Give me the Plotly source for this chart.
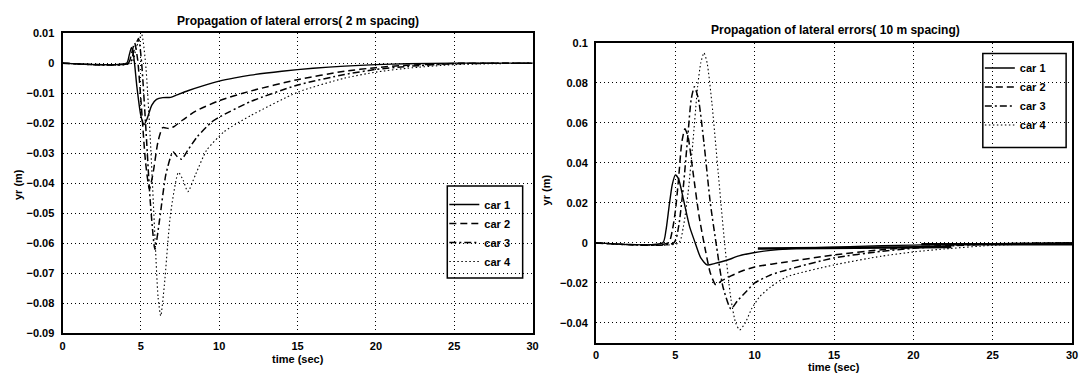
import plotly.graph_objects as go

# ---------------- lateral error, 2 m spacing ----------------
t_car1_2m = [0, 4.1, 4.25, 4.4, 4.55, 4.75, 5.0, 5.2, 5.4, 5.7, 6.0, 6.4, 6.9, 7.3, 8, 9, 10, 11, 12, 14, 16, 18, 20, 22, 25, 30]
y_car1_2m = [0, 0, 0.0025, 0.0052, 0.002, -0.008, -0.0175, -0.0205, -0.0185, -0.014, -0.0121, -0.0115, -0.0114, -0.0106,
             -0.0092, -0.0075, -0.006, -0.0049, -0.004, -0.0027, -0.0017, -0.001, -0.0005, -0.0002, 0, 0]

t_car2_2m = [0, 4.2, 4.4, 4.6, 4.8, 5.0, 5.3, 5.55, 5.8, 6.1, 6.4, 6.8, 7.1, 7.6, 8.5, 10, 12, 15, 18, 20, 22, 25, 30]
y_car2_2m = [0, 0, 0.003, 0.0068, 0.001, -0.012, -0.033, -0.042, -0.036, -0.026, -0.0215, -0.0218, -0.0212, -0.0192,
             -0.016, -0.0125, -0.0093, -0.0055, -0.0027, -0.0015, -0.0007, -0.0001, 0]

t_car3_2m = [0, 4.3, 4.55, 4.85, 5.05, 5.3, 5.6, 5.9, 6.2, 6.6, 7.05, 7.3, 7.6, 8.0, 8.6, 9.5, 10, 12, 15, 18, 20, 22, 25, 30]
y_car3_2m = [0, 0, 0.004, 0.0082, 0.0, -0.02, -0.046, -0.062, -0.052, -0.037, -0.0295, -0.031, -0.032, -0.029, -0.0245,
             -0.0197, -0.018, -0.0128, -0.0073, -0.0038, -0.0021, -0.0011, -0.0002, 0]

t_car4_2m = [0, 4.4, 4.7, 5.05, 5.3, 5.6, 5.9, 6.1, 6.27, 6.5, 6.9, 7.4, 7.7, 8.0, 8.5, 9.2, 10.3, 11, 12, 15, 18, 20, 22, 25, 30]
y_car4_2m = [0, 0, 0.005, 0.0095, 0.0, -0.025, -0.058, -0.078, -0.0842, -0.074, -0.05, -0.0364, -0.039, -0.0428, -0.037,
             -0.029, -0.0229, -0.0205, -0.0175, -0.0097, -0.005, -0.003, -0.0017, -0.0005, 0]

# ---------------- lateral error, 10 m spacing ----------------
t_car1_10m = [0, 4.2, 4.4, 4.6, 4.8, 5.0, 5.2, 5.5, 5.9, 6.25, 6.6, 7.0, 7.5, 8.2, 9, 10, 11, 12, 15, 18, 20, 22, 25, 30]
y_car1_10m = [0, 0, 0.006, 0.018, 0.029, 0.034, 0.032, 0.022, 0.008, 0.0, -0.0075, -0.011, -0.0102, -0.0088, -0.0065,
              -0.0048, -0.0037, -0.003, -0.0021, -0.0014, -0.0011, -0.0008, -0.0004, 0]

t_car2_10m = [0, 4.55, 4.8, 5.0, 5.2, 5.4, 5.6, 5.8, 6.1, 6.5, 6.9, 7.2, 7.55, 7.9, 8.5, 9.2, 10, 12, 15, 18, 20, 22, 25, 30]
y_car2_10m = [0, 0, 0.006, 0.016, 0.032, 0.05, 0.057, 0.053, 0.036, 0.013, -0.004, -0.015, -0.021, -0.019, -0.0165,
              -0.014, -0.012, -0.0095, -0.006, -0.0034, -0.0022, -0.0013, -0.0005, 0]

t_car3_10m = [0, 4.9, 5.2, 5.5, 5.8, 6.0, 6.2, 6.45, 6.8, 7.2, 7.6, 8.0, 8.5, 8.9, 9.5, 10, 11, 12, 15, 18, 20, 22, 25, 30]
y_car3_10m = [0, 0, 0.008, 0.028, 0.055, 0.072, 0.078, 0.072, 0.05, 0.02, -0.002, -0.022, -0.033, -0.029, -0.024, -0.020,
              -0.016, -0.0135, -0.0075, -0.0042, -0.0027, -0.0016, -0.0006, 0]

t_car4_10m = [0, 5.2, 5.5, 5.8, 6.1, 6.4, 6.6, 6.8, 7.0, 7.3, 7.7, 8.1, 8.5, 8.8, 9.05, 9.4, 9.8, 10.3, 11, 12, 15, 18,
              20, 22, 25, 30]
y_car4_10m = [0, 0, 0.008, 0.025, 0.05, 0.078, 0.09, 0.095, 0.09, 0.07, 0.035, 0.0, -0.028, -0.040, -0.0435, -0.04,
              -0.033, -0.027, -0.022, -0.017, -0.011, -0.0066, -0.0045, -0.003, -0.0012, 0]

# heavy settled segments near zero on the 10 m plot
t_settle_a = [10.2, 22.4]
y_settle_a = [-0.0028, -0.0020]
t_settle_b = [20.5, 30]
y_settle_b = [-0.0007, -0.0007]

car_names = ["car 1", "car 2", "car 3", "car 4"]
x_ticks = [0, 5, 10, 15, 20, 25, 30]
y_ticks_2m = [0.01, 0, -0.01, -0.02, -0.03, -0.04, -0.05, -0.06, -0.07, -0.08, -0.09]
y_ticks_10m = [0.1, 0.08, 0.06, 0.04, 0.02, 0, -0.02, -0.04]
y_ticklabels_10m = ["0.1", "0.08", "0.06", "0.04", "0.02", "0", "\u22120.02", "\u22120.04"]
y_ticklabels_2m = ["0.01", "0", "\u22120.01", "\u22120.02", "\u22120.03", "\u22120.04", "\u22120.05", "\u22120.06",
                   "\u22120.07", "\u22120.08", "\u22120.09"]

W, H = 1087, 379
FONT = "Liberation Sans, Arial, Helvetica, sans-serif"


def fx(px):
    return px / W


def fy(px):
    return 1 - px / H


line_styles = [
    dict(dash="solid", width=1.4),
    dict(dash="7px,4px", width=1.5),
    dict(dash="7px,3px,2px,3px", width=1.5),
    dict(dash="1.5px,2.5px", width=1.1),
]

series_2m = [(t_car1_2m, y_car1_2m), (t_car2_2m, y_car2_2m), (t_car3_2m, y_car3_2m), (t_car4_2m, y_car4_2m)]
series_10m = [(t_car1_10m, y_car1_10m), (t_car2_10m, y_car2_10m), (t_car3_10m, y_car3_10m), (t_car4_10m, y_car4_10m)]

fig = go.Figure()
for name, (t, y), st in zip(car_names, series_2m, line_styles):
    fig.add_trace(go.Scatter(x=t, y=y, mode="lines", name=name, xaxis="x", yaxis="y", legend="legend",
                             line=dict(color="black", shape="spline", smoothing=0.6, **st)))
for name, (t, y), st in zip(car_names, series_10m, line_styles):
    fig.add_trace(go.Scatter(x=t, y=y, mode="lines", name=name, xaxis="x2", yaxis="y2", legend="legend2",
                             line=dict(color="black", shape="spline", smoothing=0.6, **st)))
for t, y in [(t_settle_a, y_settle_a), (t_settle_b, y_settle_b)]:
    fig.add_trace(go.Scatter(x=t, y=y, mode="lines", showlegend=False, xaxis="x2", yaxis="y2",
                             line=dict(color="black", width=2.6), hoverinfo="skip"))

axis_common = dict(
    showline=True, mirror=True, linecolor="black", linewidth=2,
    showgrid=True, gridcolor="black", gridwidth=1, griddash="1px,3px",
    zeroline=False, ticks="", tickfont=dict(family=FONT, size=11, color="black", weight="bold"),
)

fig.update_layout(
    width=W, height=H, margin=dict(l=0, r=0, t=0, b=0),
    paper_bgcolor="white", plot_bgcolor="white",
    xaxis=dict(domain=[fx(60), fx(534)], range=[0, 30], tickvals=x_ticks, anchor="y", ticklabelstandoff=2,
               **axis_common),
    yaxis=dict(domain=[fy(338), fy(28)], range=[-0.09, 0.01], tickvals=y_ticks_2m, ticktext=y_ticklabels_2m,
               anchor="x", ticklabelstandoff=4, **axis_common),
    xaxis2=dict(domain=[fx(598), fx(1078)], range=[0, 30], tickvals=x_ticks, anchor="y2", ticklabelstandoff=1,
                **axis_common),
    yaxis2=dict(domain=[fy(348), fy(38)], range=[-0.05, 0.1], tickvals=y_ticks_10m, ticktext=y_ticklabels_10m,
                anchor="x2", ticklabelstandoff=4, **axis_common),
    legend=dict(x=fx(445), y=fy(190), xanchor="left", yanchor="top", bgcolor="rgba(0,0,0,0)", borderwidth=0,
                itemwidth=30, font=dict(family=FONT, size=11, color="black", weight="bold"), tracegroupgap=0),
    legend2=dict(x=fx(985), y=fy(49), xanchor="left", yanchor="top", bgcolor="rgba(0,0,0,0)", borderwidth=0,
                 itemwidth=30, font=dict(family=FONT, size=11, color="black", weight="bold"), tracegroupgap=0),
    showlegend=True,
    shapes=[
        dict(type="rect", xref="paper", yref="paper", x0=fx(448), x1=fx(524), y0=fy(281), y1=fy(186),
             line=dict(color="black", width=1.5), layer="above"),
        dict(type="rect", xref="paper", yref="paper", x0=fx(988), x1=fx(1072), y0=fy(146), y1=fy(49),
             line=dict(color="black", width=1.5), layer="above"),
    ],
)

title_font = dict(family=FONT, size=12, color="black", weight="bold")
label_font = dict(family=FONT, size=11, color="black", weight="bold")
annotations = [
    dict(text="Propagation of lateral errors( 2 m spacing)", x=fx(297), y=fy(15), font=title_font),
    dict(text="Propagation of lateral errors( 10 m spacing)", x=fx(839), y=fy(25), font=title_font),
    dict(text="time (sec)", x=fx(297), y=fy(365), font=label_font),
    dict(text="time (sec)", x=fx(838), y=fy(373), font=label_font),
    dict(text="yr (m)", x=fx(15), y=fy(184), textangle=-90, font=label_font),
    dict(text="yr (m)", x=fx(548), y=fy(190), textangle=-90, font=label_font),
]
for a in annotations:
    fig.add_annotation(xref="paper", yref="paper", showarrow=False, xanchor="center", yanchor="middle",
                       borderpad=0, **a)

fig.write_html("out.html")
